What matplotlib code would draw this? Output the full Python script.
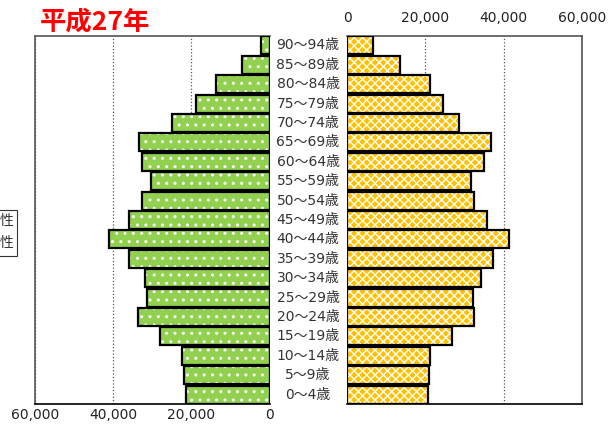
import matplotlib
matplotlib.use("Agg")
import matplotlib.pyplot as plt
from matplotlib.patches import Rectangle
from matplotlib.ticker import FuncFormatter

plt.rcParams['font.family'] = ['DejaVu Sans', 'Noto Sans CJK JP']
plt.rcParams['hatch.linewidth'] = 1.0

# age groups, bottom to top
ages = ["0～4歳", "5～9歳", "10～14歳", "15～19歳", "20～24歳", "25～29歳",
        "30～34歳", "35～39歳", "40～44歳", "45～49歳", "50～54歳", "55～59歳",
        "60～64歳", "65～69歳", "70～74歳", "75～79歳", "80～84歳", "85～89歳",
        "90～94歳"]
male = [21400, 21800, 22500, 28100, 33600, 31400, 31900, 35900, 41000, 35900,
        32700, 30300, 32600, 33500, 24900, 18800, 13700, 7100, 2100]
female = [20700, 21000, 21200, 26800, 32400, 32100, 34100, 37200, 41400, 35700,
          32500, 31600, 35100, 36800, 28500, 24600, 21100, 13500, 6500]
ticks = [0, 20000, 40000, 60000]
title = "平成27年"

fig = plt.figure(figsize=(6.09, 4.26), dpi=100)
ax_l = fig.add_axes([35 / 609, 0.0509, 234.5 / 609, 0.8653])
ax_r = fig.add_axes([347.3 / 609, 0.0509, 234.5 / 609, 0.8653])
y = list(range(len(ages)))
fmt = FuncFormatter(lambda v, p: f"{int(v):,}")

for ax, vals, col, hat in [(ax_l, male, '#92D050', '..'), (ax_r, female, '#FFC000', 'xxxx')]:
    ax.barh(y, vals, height=0.93, color=col, edgecolor='white', hatch=hat, linewidth=0, zorder=2)
    ax.barh(y, vals, height=0.93, fill=False, edgecolor='black', linewidth=1.6, zorder=3)
    ax.set_ylim(-0.5, len(ages) - 0.5)
    ax.set_yticks([])
    ax.set_xticks(ticks)
    ax.xaxis.set_major_formatter(fmt)
    ax.grid(axis='x', linestyle=':', color='#555555', linewidth=0.9, zorder=1)
    ax.tick_params(axis='x', length=0, labelsize=10, colors='#222222')
    for s in ax.spines.values():
        s.set_color('#555555')
        s.set_linewidth(1.2)
    ax.spines['bottom'].set_color('black')

ax_l.set_xlim(60000, 0)
ax_l.spines['right'].set_visible(False)
ax_l.tick_params(axis='x', pad=3)
ax_r.set_xlim(0, 60000)
ax_r.spines['left'].set_visible(False)
ax_r.xaxis.tick_top()
ax_r.tick_params(axis='x', pad=8)

# age labels between the two halves
for i, lab in enumerate(ages):
    fig.text(308 / 609, ax_l.transData.transform((0, i))[1] / 426, lab,
             ha='center', va='center', fontsize=10, color='#333333')

fig.text(40 / 609, 1 - 22 / 426, title, fontsize=19, color='#FF0000',
         fontweight='bold', family=['Noto Sans CJK JP'], ha='left', va='center')

# legend box, cut off at the left edge (as in the reference)
fig.add_artist(Rectangle((-0.05, 1 - 256 / 426), 0.05 + 17 / 609, 46 / 426,
                         transform=fig.transFigure, fill=False,
                         edgecolor='#333333', linewidth=0.8))
fig.text(14 / 609, 1 - 221 / 426, "男性", ha='right', va='center', fontsize=10, color='#333333')
fig.text(14 / 609, 1 - 243 / 426, "女性", ha='right', va='center', fontsize=10, color='#333333')

fig.savefig("out.png", dpi=100)
